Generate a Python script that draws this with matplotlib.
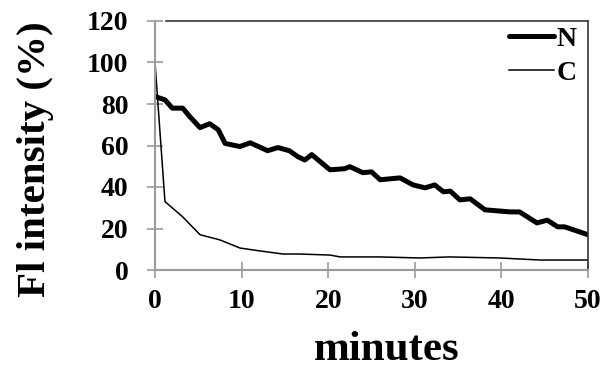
import matplotlib
matplotlib.use("Agg")
import matplotlib.pyplot as plt

n_t = [0, 1.15, 2.0, 3.2, 4.0, 5.2, 6.3, 7.3, 8.1, 9.8, 11.0, 13.0, 14.2, 15.5, 16.5,
       17.3, 18.1, 20.2, 21.9, 22.5, 24.0, 25.0, 26.0, 28.3, 29.8, 31.2, 32.3,
       33.3, 34.1, 35.2, 36.4, 38.1, 41.0, 42.1, 44.1, 45.3, 46.5, 47.3, 50.0]
n_val = [83.6, 82.0, 78.0, 78.0, 74.0, 68.6, 70.5, 67.6, 61.0, 59.5, 61.3, 57.5, 59.0, 57.5, 54.6,
         53.0, 55.6, 48.3, 48.8, 49.8, 46.9, 47.3, 43.5, 44.4, 41.0, 39.6, 41.0,
         37.7, 38.0, 33.8, 34.3, 29.0, 28.0, 28.0, 22.7, 24.0, 20.8, 20.8, 17.0]

c_t = [0, 1.15, 3.2, 5.2, 7.5, 9.8, 12.1, 14.8, 16.7, 20.2, 21.4, 26.0, 30.6, 34.0, 39.8, 44.5, 50.0]
c_val = [100, 33.0, 25.6, 17.0, 14.5, 10.6, 9.2, 7.7, 7.7, 7.2, 6.3, 6.3, 5.8, 6.3, 5.8, 4.8, 4.8]

x_ticks = [0, 10, 20, 30, 40, 50]
y_ticks = [0, 20, 40, 60, 80, 100, 120]

font = "Liberation Serif"
gray = "#9a9a9a"

fig = plt.figure(figsize=(6.05, 3.79), dpi=100)
ax = fig.add_axes([155/605, 1-270/379, 433/605, 249/379])

ax.plot(n_t, n_val, color="black", lw=3.6, solid_joinstyle="round", solid_capstyle="round", label="N")
ax.plot(c_t, c_val, color="black", lw=1.1, label="C")

ax.set_xlim(0, 50)
ax.set_ylim(0, 120)
ax.set_xticks(x_ticks)
ax.set_yticks(y_ticks)
ax.set_xticklabels([str(v) for v in x_ticks], fontfamily=font, fontweight="bold", fontsize=20)
ax.set_yticklabels([str(v) for v in y_ticks], fontfamily=font, fontweight="bold", fontsize=20)
ax.tick_params(axis="both", direction="inout", length=12, width=1.2, color=gray)
ax.tick_params(axis="y", pad=13)
ax.tick_params(axis="x", pad=8)

for s in ["left", "bottom"]:
    ax.spines[s].set_color(gray)
    ax.spines[s].set_linewidth(1.5)
for s in ["top", "right"]:
    ax.spines[s].set_color("#333333")
    ax.spines[s].set_linewidth(1.2)
ax.spines["top"].set_bounds(1.3, 50)

ax.set_xlabel("minutes", fontfamily=font, fontweight="bold", fontsize=31, va="center")
ax.xaxis.set_label_coords(0.536, (270-350)/249)
ax.set_ylabel("Fl intensity (%)", fontfamily=font, fontweight="bold", fontsize=29.5, va="center", ha="center")
ax.yaxis.set_label_coords((35-155)/433, 0.445)

leg = ax.legend(loc="upper right", bbox_to_anchor=(1.012, 1.045), frameon=False,
                prop={"family": font, "weight": "bold", "size": 20},
                handlelength=1.6, handletextpad=0.1, labelspacing=0.3, borderaxespad=0.2)

fig.savefig("out.png", dpi=100)
